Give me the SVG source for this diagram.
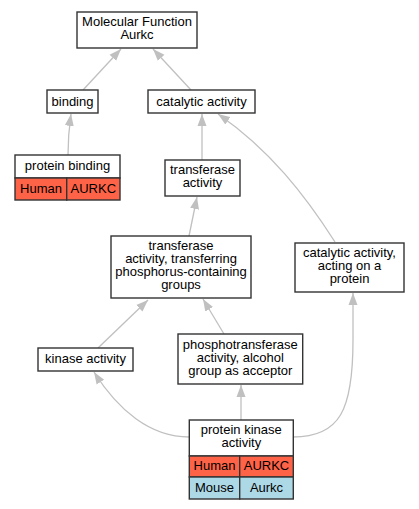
<svg xmlns="http://www.w3.org/2000/svg" width="419" height="509" viewBox="0 0 419 509">
<style>
.box{fill:#fff;stroke:#333;stroke-width:1.4}
.hu{fill:#ff6347;stroke:#333;stroke-width:1.4}
.mo{fill:#add8e6;stroke:#333;stroke-width:1.4}
text{font-family:"Liberation Sans",Arial,sans-serif;font-size:13px;text-anchor:middle;fill:#000}
.e{fill:none;stroke:#c0c0c0;stroke-width:1.3}
</style>
<defs>
<marker id="ah" viewBox="0 0 12 10" refX="12" refY="5" markerWidth="12" markerHeight="10" markerUnits="userSpaceOnUse" orient="auto">
<path d="M0,0.5 L12,5 L0,9.5 Z" fill="#c0c0c0"/>
</marker>
</defs>
<rect width="419" height="509" fill="#fff"/>
<g id="edges">
<path class="e" d="M83,90 L121,49" marker-end="url(#ah)"/>
<path class="e" d="M191,90 L153,49" marker-end="url(#ah)"/>
<path class="e" d="M68,155 C68,140 69,128 71,114" marker-end="url(#ah)"/>
<path class="e" d="M202,160 L202,114" marker-end="url(#ah)"/>
<path class="e" d="M335,242 C305,195 270,150 218,114" marker-end="url(#ah)"/>
<path class="e" d="M189,236 L197,197" marker-end="url(#ah)"/>
<path class="e" d="M98,348 L148,300" marker-end="url(#ah)"/>
<path class="e" d="M224,334 L203,299" marker-end="url(#ah)"/>
<path class="e" d="M189,437 C150,437 118,410 94,372" marker-end="url(#ah)"/>
<path class="e" d="M241,420 L241,385" marker-end="url(#ah)"/>
<path class="e" d="M293,437 C340,437 353,410 353,340 L353,293" marker-end="url(#ah)"/>
</g>
<g id="mf">
<rect class="box" x="77" y="12" width="120" height="36"/>
<text x="137" y="26">Molecular Function</text>
<text x="137" y="39">Aurkc</text>
</g>
<g id="binding">
<rect class="box" x="47" y="90" width="51" height="23"/>
<text x="72.5" y="105.5">binding</text>
</g>
<g id="catalytic">
<rect class="box" x="148" y="90" width="107" height="23"/>
<text x="201.5" y="105.5">catalytic activity</text>
</g>
<g id="protein_binding">
<rect class="box" x="15" y="155" width="105" height="23"/>
<rect class="hu" x="15" y="178" width="51.7" height="22"/>
<rect class="hu" x="66.7" y="178" width="53.3" height="22"/>
<text x="67.5" y="170">protein binding</text>
<text x="41" y="193">Human</text>
<text x="93.3" y="193">AURKC</text>
</g>
<g id="transferase">
<rect class="box" x="165" y="160" width="75" height="36"/>
<text x="202.5" y="174">transferase</text>
<text x="202.5" y="187">activity</text>
</g>
<g id="transferring">
<rect class="box" x="111" y="236" width="140" height="62"/>
<text x="181" y="250">transferase</text>
<text x="181" y="263">activity, transferring</text>
<text x="181" y="276">phosphorus-containing</text>
<text x="181" y="289">groups</text>
</g>
<g id="acting">
<rect class="box" x="295" y="243" width="109" height="49"/>
<text x="349.5" y="257">catalytic activity,</text>
<text x="349.5" y="270">acting on a</text>
<text x="349.5" y="283">protein</text>
</g>
<g id="kinase">
<rect class="box" x="38" y="348" width="95" height="23"/>
<text x="85.5" y="362.5">kinase activity</text>
</g>
<g id="phospho">
<rect class="box" x="178" y="334" width="124.7" height="50"/>
<text x="240.3" y="348.5">phosphotransferase</text>
<text x="240.3" y="361.5">activity, alcohol</text>
<text x="240.3" y="374.5">group as acceptor</text>
</g>
<g id="protein_kinase">
<rect class="box" x="189.3" y="420" width="104" height="36"/>
<rect class="hu" x="189.3" y="456" width="50.4" height="21"/>
<rect class="hu" x="239.7" y="456" width="53.6" height="21"/>
<rect class="mo" x="189.3" y="477" width="50.4" height="22"/>
<rect class="mo" x="239.7" y="477" width="53.6" height="22"/>
<text x="241.3" y="433.5">protein kinase</text>
<text x="241.3" y="446.5">activity</text>
<text x="214.5" y="470">Human</text>
<text x="266.5" y="470">AURKC</text>
<text x="214.5" y="492">Mouse</text>
<text x="266.5" y="492">Aurkc</text>
</g>
</svg>
